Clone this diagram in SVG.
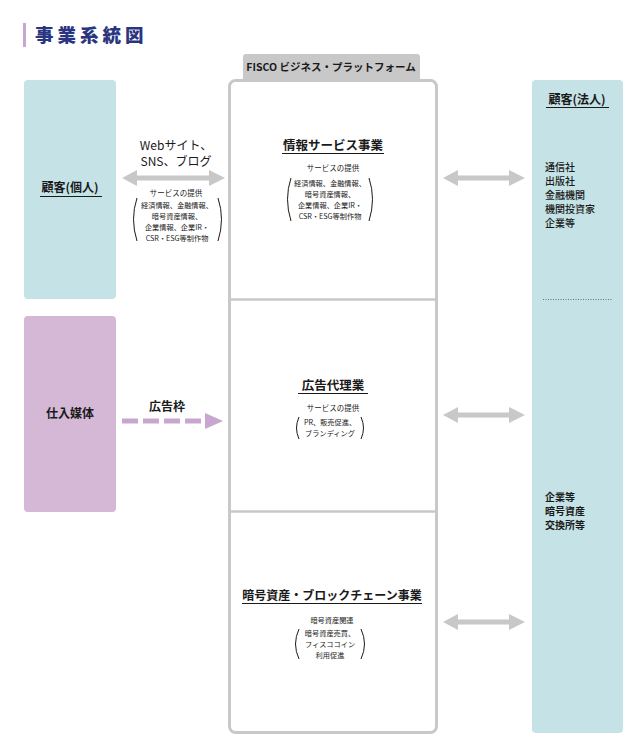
<svg xmlns="http://www.w3.org/2000/svg" width="643" height="754" viewBox="0 0 643 754">
<style>
text{font-family:"Noto Sans CJK JP","Noto Sans",sans-serif;fill:#1a1a1a}
.h{font-size:12.5px;font-weight:bold;text-anchor:middle}
.s{font-size:7.2px;text-anchor:middle}
.l{font-size:10px;font-weight:bold}
.ul{stroke:#1a1a1a;stroke-width:1.2}
.par{fill:none;stroke:#1a1a1a;stroke-width:1}
.ga{fill:#c8c8c8}
</style>
<g id="title">
<rect x="23" y="23" width="3" height="24" fill="#c9a6cf"/>
<text x="35" y="42" style="font-size:18.5px;font-weight:900;fill:#2a3580;letter-spacing:4px">事業系統図</text>
</g>
<g id="platform">
<rect x="243" y="54" width="177" height="30" rx="3" fill="#c8c8c8"/>
<text x="331" y="71" style="font-size:10.5px;font-weight:bold;text-anchor:middle">FISCO ビジネス・プラットフォーム</text>
<rect x="229.5" y="80.5" width="207" height="652" rx="6" fill="#fff" stroke="#c8c8c8" stroke-width="3"/>
<line x1="229" y1="299.5" x2="437" y2="299.5" stroke="#c8c8c8" stroke-width="2.5"/>
<line x1="229" y1="511.5" x2="437" y2="511.5" stroke="#c8c8c8" stroke-width="2.5"/>
</g>
<g id="info-service">
<text class="h" x="333" y="150">情報サービス事業</text>
<line class="ul" x1="282" y1="153.5" x2="384" y2="153.5"/>
<text class="s" x="333" y="171" style="font-size:7.5px">サービスの提供</text>
<text class="s" x="330" y="186">経済情報、金融情報、</text>
<text class="s" x="330" y="197">暗号資産情報、</text>
<text class="s" x="330" y="208">企業情報、企業IR・</text>
<text class="s" x="330" y="219">CSR・ESG等制作物</text>
<path class="par" d="M291 178 Q284 199 291 221"/>
<path class="par" d="M369 178 Q376 199 369 221"/>
</g>
<g id="ad-agency">
<text class="h" x="333" y="390">広告代理業</text>
<line class="ul" x1="298" y1="393.5" x2="368" y2="393.5"/>
<text class="s" x="333" y="411" style="font-size:7.5px">サービスの提供</text>
<text class="s" x="330" y="425">PR、販売促進、</text>
<text class="s" x="330" y="436">ブランディング</text>
<path class="par" d="M299 417 Q294 428 299 439"/>
<path class="par" d="M361 417 Q366 428 361 439"/>
</g>
<g id="crypto">
<text class="h" x="332" y="600" style="font-size:12px">暗号資産・ブロックチェーン事業</text>
<line class="ul" x1="242" y1="603.5" x2="422" y2="603.5"/>
<text class="s" x="332" y="623">暗号資産関連</text>
<text class="s" x="330" y="636">暗号資産売買、</text>
<text class="s" x="330" y="647">フィスココイン</text>
<text class="s" x="330" y="658">利用促進</text>
<path class="par" d="M299 629 Q292 644 299 659"/>
<path class="par" d="M361 629 Q368 644 361 659"/>
</g>
<g id="customer-individual">
<rect x="24" y="80" width="92" height="219" rx="4" fill="#c5e3e6"/>
<text x="70" y="192" style="font-size:12px;font-weight:bold;text-anchor:middle">顧客(個人)</text>
<line class="ul" x1="40" y1="196.5" x2="102" y2="196.5"/>
</g>
<g id="media">
<rect x="24" y="316" width="92" height="196" rx="4" fill="#d4b8d6"/>
<text x="70" y="418" style="font-size:12px;font-weight:bold;text-anchor:middle">仕入媒体</text>
</g>
<g id="customer-corporate">
<rect x="532" y="80" width="91" height="653" rx="4" fill="#c5e3e6"/>
<text x="577" y="104" style="font-size:12px;font-weight:bold;text-anchor:middle">顧客(法人)</text>
<line class="ul" x1="546" y1="107.5" x2="609" y2="107.5"/>
<text class="l" x="545" y="171" style="font-weight:500">通信社</text>
<text class="l" x="545" y="185" style="font-weight:500">出版社</text>
<text class="l" x="545" y="199" style="font-weight:500">金融機関</text>
<text class="l" x="545" y="213" style="font-weight:500">機関投資家</text>
<text class="l" x="545" y="227" style="font-weight:500">企業等</text>
<line x1="543" y1="299.5" x2="613" y2="299.5" stroke="#555" stroke-width="0.8" stroke-dasharray="1 1.5"/>
<text class="l" x="545" y="501">企業等</text>
<text class="l" x="545" y="515">暗号資産</text>
<text class="l" x="545" y="529">交換所等</text>
</g>
<g id="connectors">
<path class="ga" d="M122 178 L137 170 L137 175.5 L209 175.5 L209 170 L225 178 L209 186 L209 180.5 L137 180.5 L137 186 Z"/>
<text x="176" y="150" style="font-size:12px;text-anchor:middle">Webサイト、</text>
<text x="176" y="166" style="font-size:12px;text-anchor:middle">SNS、ブログ</text>
<text class="s" x="176" y="196" style="font-size:7.5px">サービスの提供</text>
<text class="s" x="177" y="208">経済情報、金融情報、</text>
<text class="s" x="177" y="219">暗号資産情報、</text>
<text class="s" x="177" y="230">企業情報、企業IR・</text>
<text class="s" x="177" y="241">CSR・ESG等制作物</text>
<path class="par" d="M137 198 Q130 219 137 241"/>
<path class="par" d="M218 198 Q225 219 218 241"/>
<path class="ga" d="M443 178 L458 170 L458 175.5 L509 175.5 L509 170 L525 178 L509 186 L509 180.5 L458 180.5 L458 186 Z"/>
<path class="ga" d="M443 415 L458 407 L458 412.5 L509 412.5 L509 407 L525 415 L509 423 L509 417.5 L458 417.5 L458 423 Z"/>
<path class="ga" d="M443 622 L458 614 L458 619.5 L509 619.5 L509 614 L525 622 L509 630 L509 624.5 L458 624.5 L458 630 Z"/>
<line x1="122" y1="421" x2="205" y2="421" stroke="#c9a6cf" stroke-width="5" stroke-dasharray="16 5"/>
<path d="M205 413 L223 421 L205 429 Z" fill="#c9a6cf"/>
<text x="167" y="411" style="font-size:12px;font-weight:bold;text-anchor:middle">広告枠</text>
</g>
</svg>
